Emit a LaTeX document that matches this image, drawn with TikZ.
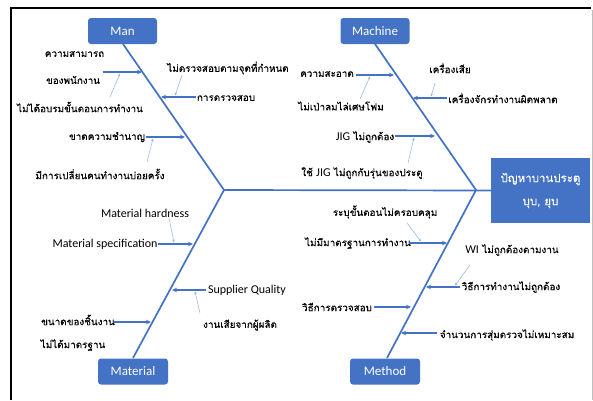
\documentclass[tikz,border=0pt]{standalone}
\usepackage{fontspec}
\setmainfont{Carlito}
\newfontfamily\thai[Script=Thai,FakeBold=0.3]{Loma}
\newfontfamily\lat{Carlito}
\usetikzlibrary{arrows.meta}
\definecolor{boxblue}{HTML}{4472C4}
\definecolor{lineblue}{HTML}{4472C4}
\definecolor{thinblue}{HTML}{8EB4E3}
\tikzset{
  catbox/.style={draw=none, fill=boxblue, rounded corners=3pt, text=white,
    minimum width=69pt, minimum height=26pt, inner sep=0pt, font=\lat\fontsize{13}{15}\selectfont},
  probbox/.style={draw=none, fill=boxblue, text=white, minimum width=99pt, minimum height=65pt,
    inner sep=0pt, align=center, font=\thai\fontsize{11.5}{23}\selectfont},
  rib/.style={draw=lineblue, line width=1.7pt},
  cause/.style={draw=lineblue, line width=1.3pt, -{Stealth[length=5pt,width=4.5pt]}},
  sub/.style={draw=thinblue, line width=0.5pt, -{Stealth[length=3pt,width=2.5pt]}},
  lbl/.style={inner sep=0pt, font=\thai\fontsize{9.9}{12}\selectfont, text=black},
  elbl/.style={inner sep=0pt, font=\lat\fontsize{12}{14}\selectfont, text=black}
}
\begin{document}
\begin{tikzpicture}[x=1pt,y=-1pt]
\useasboundingbox (0,0) rectangle (593,400);
\fill[white] (0,0) rectangle (593,400);
% frame
\draw[black, line width=2pt] (10.5,400) -- (10.5,8) -- (591,8);
\draw[black!25, line width=0.6pt] (592,9.5) -- (592,400);

% category boxes
\node[catbox] (man) at (122.5,31) {Man};
\node[catbox] (machine) at (375,31) {Machine};
\node[catbox, minimum width=70pt] (material) at (133,371.5) {Material};
\node[catbox, minimum width=70pt] (method) at (385,371.5) {Method};
\node[probbox] (prob) at (540.5,190.5) {ปัญหาบานประตู\\บุบ, ยุบ};

% skeleton
\coordinate (J1) at (224,190);
\coordinate (J2) at (476,190);
\coordinate (manS) at (123,44);
\coordinate (macS) at (375,44);
\coordinate (matN) at (133,358);
\coordinate (metN) at (387,358);
\draw[rib] (manS) -- (J1) -- (matN);
\draw[rib] (macS) -- (J2) -- (metN);
\draw[rib] (J1) -- (prob.west);

% ---------- Man ----------
\node[lbl] (t1) at (74.5,54) {ความสามารถ};
\node[lbl] (t2) at (73,80) {ของพนักงาน};
\node[lbl] (t3) at (80,107) {ไม่ได้อบรมขั้นตอนการทำงาน};
\coordinate (a1s) at (103,72); \coordinate (a1e) at (142,72);
\draw[cause] (a1s) -- (a1e);
\coordinate (s1s) at (110,97); \coordinate (s1e) at (120,73.5);
\draw[sub] (s1s) -- (s1e);

\node[lbl] (t4) at (228,68) {ไม่ตรวจสอบตามจุดที่กำหนด};
\node[lbl] (t5) at (226,98) {การตรวจสอบ};
\coordinate (a2s) at (196,97); \coordinate (a2e) at (161,97);
\draw[cause] (a2s) -- (a2e);
\coordinate (s2s) at (182,75); \coordinate (s2e) at (175,95.5);
\draw[sub] (s2s) -- (s2e);

\node[lbl] (t6) at (107,137) {ขาดความชำนาญ};
\node[lbl] (t7) at (100,174) {มีการเปลี่ยนคนทำงานบ่อยครั้ง};
\coordinate (a3s) at (146,137); \coordinate (a3e) at (185,137);
\draw[cause] (a3s) -- (a3e);
\coordinate (s3s) at (147,162); \coordinate (s3e) at (153,138.5);
\draw[sub] (s3s) -- (s3e);

% ---------- Machine ----------
\node[lbl] (t8) at (327,74) {ความสะอาด};
\node[lbl] (t9) at (341,106) {ไม่เป่าลมไล่เศษโฟม};
\coordinate (a4s) at (356,75); \coordinate (a4e) at (394,75);
\draw[cause] (a4s) -- (a4e);
\coordinate (s4s) at (360,99); \coordinate (s4e) at (370,76.5);
\draw[sub] (s4s) -- (s4e);

\node[lbl] (t10) at (450,68) {เครื่องเสีย};
\node[lbl] (t11) at (503,98) {เครื่องจักรทำงานผิดพลาด};
\coordinate (a5s) at (447,98); \coordinate (a5e) at (413,98);
\draw[cause] (a5s) -- (a5e);
\coordinate (s5s) at (435,83); \coordinate (s5e) at (431,96.5);
\draw[sub] (s5s) -- (s5e);

\node[lbl] (t12) at (365,137) {{\lat\fontsize{12}{14}\selectfont JIG} ไม่ถูกต้อง};
\node[lbl] (t13) at (362,173) {ใช้ {\lat\fontsize{12}{14}\selectfont JIG} ไม่ถูกกับรุ่นของประตู};
\coordinate (a6s) at (395,136); \coordinate (a6e) at (435,136);
\draw[cause] (a6s) -- (a6e);
\coordinate (s6s) at (408,163); \coordinate (s6e) at (414,137.5);
\draw[sub] (s6s) -- (s6e);

% ---------- Material ----------
\node[elbl] (t14) at (145,213) {Material hardness};
\node[elbl] (t15) at (105,244) {Material specification};
\coordinate (a7s) at (158,244); \coordinate (a7e) at (193,244);
\draw[cause] (a7s) -- (a7e);
\coordinate (s7s) at (169,218); \coordinate (s7e) at (174,242.5);
\draw[sub] (s7s) -- (s7e);

\node[elbl] (t16) at (247,290) {Supplier Quality};
\node[lbl] (t17) at (240,325) {งานเสียจากผู้ผลิต};
\coordinate (a8s) at (206,290); \coordinate (a8e) at (172,290);
\draw[cause] (a8s) -- (a8e);
\coordinate (s8s) at (200,313); \coordinate (s8e) at (195,291.5);
\draw[sub] (s8s) -- (s8e);

\node[lbl] (t18) at (78,320) {ขนาดของชิ้นงาน};
\node[lbl] (t19) at (73,345) {ไม่ได้มาตรฐาน};
\coordinate (a9s) at (114,322); \coordinate (a9e) at (151,322);
\draw[cause] (a9s) -- (a9e);

% ---------- Method ----------
\node[lbl] (t20) at (385,212) {ระบุขั้นตอนไม่ครอบคลุม};
\node[lbl] (t21) at (358,243) {ไม่มีมาตรฐานการทำงาน};
\coordinate (a10s) at (409,243); \coordinate (a10e) at (447,243);
\draw[cause] (a10s) -- (a10e);
\coordinate (s10s) at (407,223); \coordinate (s10e) at (421,241.5);
\draw[sub] (s10s) -- (s10e);

\node[lbl] (t22) at (512,250) {{\lat\fontsize{12}{14}\selectfont WI} ไม่ถูกต้องตามงาน};
\node[lbl] (t23) at (511,287) {วิธีการทำงานไม่ถูกต้อง};
\coordinate (a11s) at (460,287); \coordinate (a11e) at (426,287);
\draw[cause] (a11s) -- (a11e);
\coordinate (s11s) at (470,265); \coordinate (s11e) at (455,285.5);
\draw[sub] (s11s) -- (s11e);

\node[lbl] (t24) at (337,307) {วิธีการตรวจสอบ};
\coordinate (a12s) at (374,307); \coordinate (a12e) at (411,307);
\draw[cause] (a12s) -- (a12e);

\node[lbl] (t25) at (507,335) {จำนวนการสุ่มตรวจไม่เหมาะสม};
\coordinate (a13s) at (437,333); \coordinate (a13e) at (401,333);
\draw[cause] (a13s) -- (a13e);
\end{tikzpicture}
\end{document}
